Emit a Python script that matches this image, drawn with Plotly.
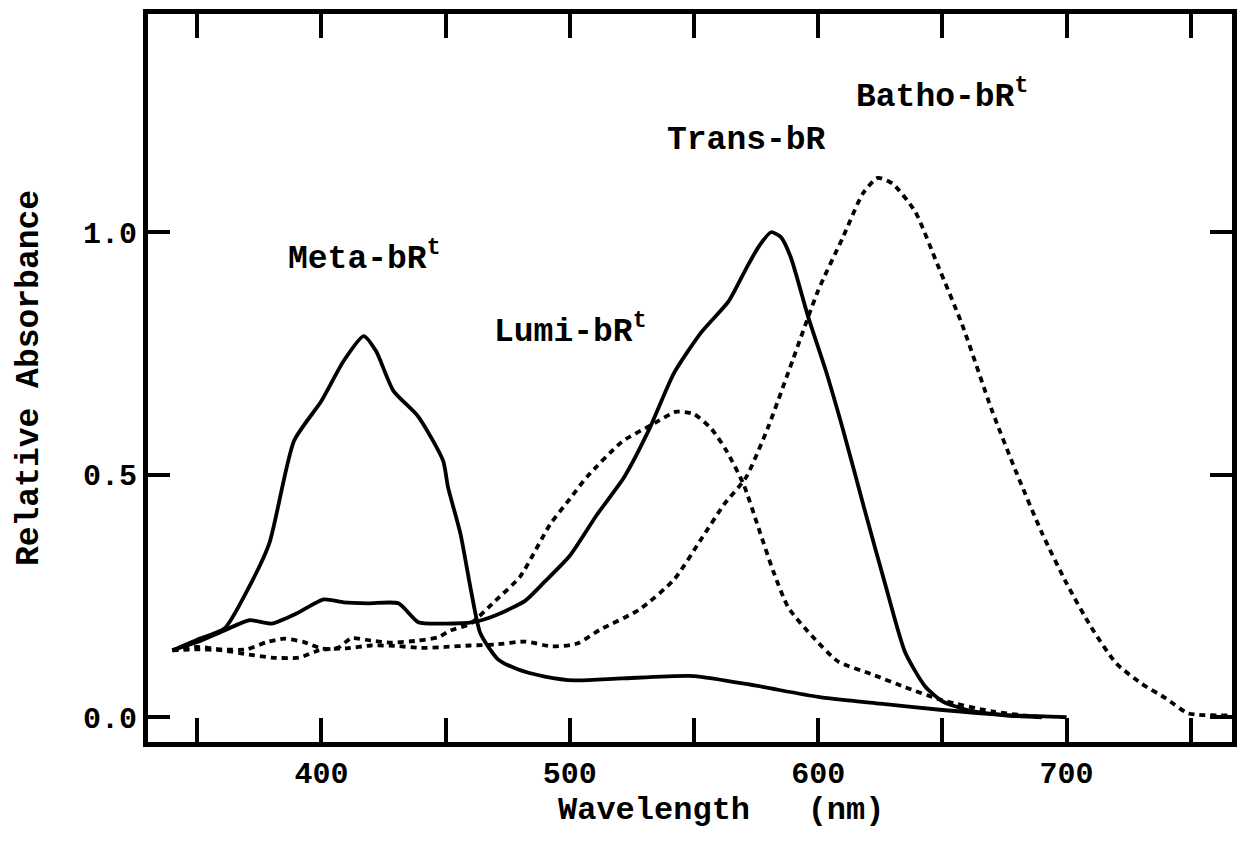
import plotly.graph_objects as go

# ---- data ----
meta_x = [340, 350, 361, 370, 379, 389, 400, 409, 417, 422, 429, 439, 449, 451, 456, 460, 464, 471, 479, 490, 502, 521, 550, 575, 600, 625, 650, 675, 700]
meta_y = [0.138, 0.16, 0.183, 0.26, 0.358, 0.57, 0.652, 0.735, 0.786, 0.755, 0.673, 0.62, 0.529, 0.474, 0.378, 0.268, 0.173, 0.12, 0.099, 0.084, 0.076, 0.08, 0.085, 0.065, 0.042, 0.028, 0.015, 0.005, 0.0]

trans_x = [340, 350, 361, 371, 380, 390, 401, 409, 419, 431, 439, 449, 461, 470, 482, 490, 500, 511, 522, 532, 542, 553, 564, 571, 576, 581, 585, 589, 596, 603, 610, 619, 627, 635, 643, 650, 660, 675, 690]
trans_y = [0.138, 0.155, 0.179, 0.2, 0.193, 0.214, 0.243, 0.237, 0.235, 0.235, 0.196, 0.193, 0.196, 0.21, 0.24, 0.28, 0.333, 0.418, 0.496, 0.594, 0.71, 0.794, 0.858, 0.925, 0.97, 1.0, 0.99, 0.948, 0.825, 0.716, 0.593, 0.422, 0.274, 0.134, 0.064, 0.033, 0.015, 0.004, 0.0]

lumi_x = [340, 350, 360, 370, 380, 391, 399, 407, 412, 420, 428, 439, 447, 452, 460, 470, 480, 492, 500, 507, 521, 533, 543, 550, 557, 563, 570, 576, 582, 588, 598, 608, 622, 635, 650, 670, 690]
lumi_y = [0.138, 0.14, 0.138, 0.13, 0.123, 0.123, 0.138, 0.144, 0.163, 0.158, 0.154, 0.158, 0.165, 0.179, 0.193, 0.24, 0.29, 0.397, 0.45, 0.496, 0.568, 0.603, 0.63, 0.625, 0.595, 0.55, 0.48, 0.39, 0.3, 0.226, 0.165, 0.115, 0.088, 0.062, 0.035, 0.012, 0.0]

batho_x = [340, 350, 360, 370, 378, 385, 393, 400, 410, 420, 430, 440, 450, 460, 470, 482, 493, 503, 512, 528, 542, 553, 562, 571, 580, 590, 600, 610, 618, 624, 630, 639, 648, 658, 670, 680, 690, 700, 710, 720, 730, 740, 749, 766]
batho_y = [0.138, 0.145, 0.14, 0.14, 0.155, 0.162, 0.155, 0.142, 0.142, 0.148, 0.147, 0.143, 0.145, 0.148, 0.15, 0.156, 0.146, 0.152, 0.18, 0.222, 0.284, 0.368, 0.438, 0.495, 0.6, 0.74, 0.88, 0.99, 1.08, 1.112, 1.1, 1.043, 0.934, 0.809, 0.632, 0.502, 0.381, 0.276, 0.185, 0.111, 0.07, 0.039, 0.008, 0.004]

x_tickvals = [400, 500, 600, 700]
x_ticktext = ["400", "500", "600", "700"]
x_minor_step = 50
y_tickvals = [0.0, 0.5, 1.0]
y_ticktext = ["0.0", "0.5", "1.0"]

labels = [
    ("Meta-bR<sup>t</sup>", 417, 0.95),
    ("Lumi-bR<sup>t</sup>", 500, 0.80),
    ("Trans-bR", 571, 1.19),
    ("Batho-bR<sup>t</sup>", 650, 1.285),
]
x_title = "Wavelength   (nm)"
y_title = "Relative Absorbance"

FONT = "Liberation Mono, DejaVu Sans Mono, monospace"

fig = go.Figure()
series = [
    (meta_x, meta_y, "solid"),
    (trans_x, trans_y, "solid"),
    (lumi_x, lumi_y, "6px,5px"),
    (batho_x, batho_y, "6px,5px"),
]
for xs, ys, dash in series:
    fig.add_trace(go.Scatter(
        x=xs, y=ys, mode="lines",
        line=dict(color="black", width=3.8, dash=dash, shape="spline", smoothing=0.6),
        showlegend=False, hoverinfo="skip",
    ))

for text, xv, yv in labels:
    fig.add_annotation(x=xv, y=yv, text=text, showarrow=False,
                       font=dict(family=FONT, size=33, color="black", weight="bold"),
                       xanchor="center", yanchor="middle")

fig.add_annotation(xref="paper", yref="paper", x=0.529, y=-0.094,
                   text=x_title, showarrow=False,
                   font=dict(family=FONT, size=32, color="black", weight="bold"),
                   xanchor="center", yanchor="middle")

# page body adds an 8px offset; margins compensate so the frame lands at ~146..1234 x 12..742
fig.update_layout(
    width=1246, height=859,
    margin=dict(l=140, r=22, t=6, b=125),
    paper_bgcolor="white", plot_bgcolor="white",
    font=dict(family=FONT, size=30, color="black", weight="bold"),
)
fig.update_xaxes(
    range=[330.2, 766.6], automargin=False,
    tickvals=x_tickvals, ticktext=x_ticktext,
    ticks="inside", ticklen=24, tickwidth=4, tickcolor="black",
    minor=dict(ticks="inside", dtick=x_minor_step, tick0=350, ticklen=24, tickwidth=4, tickcolor="black", showgrid=False),
    showline=True, linewidth=5, linecolor="black", mirror="ticks",
    showgrid=False, zeroline=False,
    tickfont=dict(family=FONT, size=30, color="black", weight="bold"),
)
fig.update_yaxes(
    range=[-0.051, 1.45], automargin=False,
    tickvals=y_tickvals, ticktext=y_ticktext,
    ticks="inside", ticklen=22, tickwidth=4, tickcolor="black",
    showline=True, linewidth=5, linecolor="black", mirror="ticks",
    showgrid=False, zeroline=False,
    tickfont=dict(family=FONT, size=30, color="black", weight="bold"),
    title=dict(text=y_title, font=dict(family=FONT, size=33, color="black", weight="bold"), standoff=36),
)

fig.write_html("out.html")
